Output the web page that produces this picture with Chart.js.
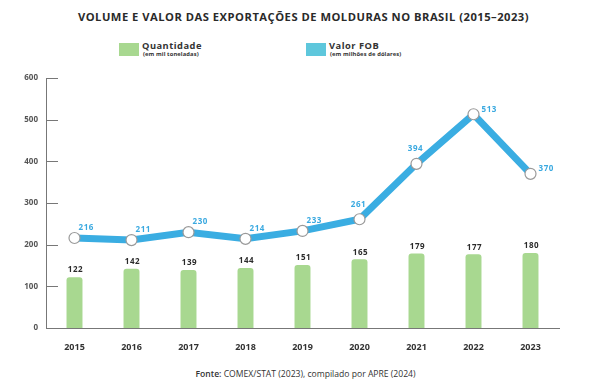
<!DOCTYPE html>
<html><head><meta charset="utf-8">
<script src="https://cdn.jsdelivr.net/npm/chart.js@4"></script>
<style>
html,body{margin:0;padding:0;background:#fff;}
body{width:595px;height:381px;position:relative;overflow:hidden;font-family:"Open Sans",sans-serif;}
#title{position:absolute;top:9px;left:6px;width:595px;text-align:center;font-weight:700;font-size:11.2px;letter-spacing:0.5px;color:#2a2a2a;}
.leg{position:absolute;top:43px;}
.sw{position:absolute;left:0;top:0;width:20px;height:12.5px;}
.lt{position:absolute;left:23px;top:-3px;white-space:nowrap;font-weight:700;font-size:9.3px;letter-spacing:0.5px;color:#333;line-height:11px;}
.ls{display:block;font-size:5.8px;letter-spacing:0.1px;line-height:6px;margin-left:1px;}
#src{position:absolute;top:368px;left:8px;width:595px;text-align:center;font-size:8.6px;color:#333;}
#src b{font-weight:600;}
canvas{position:absolute;left:0;top:0;}
</style></head>
<body>
<div id="title">VOLUME E VALOR DAS EXPORTAÇÕES DE MOLDURAS NO BRASIL (2015–2023)</div>
<div class="leg" style="left:119px"><div class="sw" style="background:#a8d890"></div><div class="lt">Quantidade<span class="ls">(em mil toneladas)</span></div></div>
<div class="leg" style="left:306px"><div class="sw" style="background:#5ec7dc"></div><div class="lt">Valor FOB<span class="ls">(em milhões de dólares)</span></div></div>
<div id="src"><b>Fonte:</b> COMEX/STAT (2023), compilado por APRE (2024)</div>
<canvas id="c" width="595" height="381"></canvas>
<script>
const years = ['2015','2016','2017','2018','2019','2020','2021','2022','2023'];
const quantidade = [122,142,139,144,151,165,179,177,180];
const valorFOB = [216,211,230,214,233,261,394,513,370];
const yTicks = [0,100,200,300,400,500,600];
const lineLabelAnchor = ['ne','ne','ne','ne','ne','n','n','e','e'];

const labelsPlugin = {
  id:'labels',
  afterDatasetsDraw(chart){
    const ctx = chart.ctx;
    ctx.save();
    ctx.font = '700 8px "Open Sans"';
    if (ctx.letterSpacing!==undefined) ctx.letterSpacing='0.6px';
    const barMeta = chart.getDatasetMeta(chart.data.datasets.findIndex(d=>d.type==='bar'));
    const lineMeta = chart.getDatasetMeta(chart.data.datasets.findIndex(d=>d.type==='line'));
    ctx.fillStyle = '#2a2a2a';
    ctx.textAlign='center'; ctx.textBaseline='bottom';
    barMeta.data.forEach((b,i)=>{ ctx.fillText(String(quantidade[i]), b.x+1, b.y-3); });
    ctx.fillStyle = '#3aa9e0';
    ctx.textBaseline='middle';
    lineMeta.data.forEach((p,i)=>{
      const a = lineLabelAnchor[i];
      if (a==='ne'){ ctx.textAlign='left'; ctx.fillText(String(valorFOB[i]), p.x+4, p.y-10); }
      else if (a==='n'){ ctx.textAlign='center'; ctx.fillText(String(valorFOB[i]), p.x-1, p.y-15); }
      else { ctx.textAlign='left'; ctx.fillText(String(valorFOB[i]), p.x+8, p.y-5); }
    });
    const ys = chart.scales.y;
    ctx.strokeStyle='#777'; ctx.lineWidth=1;
    ctx.beginPath();
    yTicks.forEach(v=>{ if(v===0) return; const y=Math.round(ys.getPixelForValue(v))+0.5; ctx.moveTo(ys.right, y); ctx.lineTo(ys.right+12, y); });
    ctx.stroke();
    ctx.restore();
  }
};

new Chart(document.getElementById('c'), {
  data:{
    labels: years,
    datasets:[
      {type:'bar', label:'Quantidade', data: quantidade, backgroundColor:'#a8d890', categoryPercentage:1, barPercentage:0.28, borderRadius:{topLeft:3,topRight:3,bottomLeft:0,bottomRight:0}, borderSkipped:false, order:1},
      {type:'line', label:'Valor FOB', data: valorFOB, borderColor:'#3aade2', borderWidth:7, pointRadius:5.5, pointBackgroundColor:'#fff', pointBorderColor:'#9a9a9a', pointBorderWidth:1.2, tension:0, order:0}
    ]
  },
  options:{
    responsive:false, animation:false, devicePixelRatio:1,
    layout:{padding:{top:78,right:36,bottom:0,left:0}},
    plugins:{legend:{display:false}, tooltip:{enabled:false}},
    scales:{
      x:{
        grid:{display:false, drawTicks:false},
        border:{display:true,color:'#777',width:1},
        ticks:{padding:14, color:'#333', font:{family:'"Open Sans"',weight:'700',size:9}},
        afterFit(s){ s.height = 53; }
      },
      y:{
        min:0,max:600,
        afterBuildTicks(s){ s.ticks = yTicks.map(v=>({value:v})); },
        grid:{display:false, drawTicks:false},
        border:{display:true,color:'#777',width:1},
        ticks:{padding:8, color:'#555', font:{family:'"Open Sans"',weight:'700',size:8}},
        afterFit(s){ s.width = 46; }
      }
    }
  },
  plugins:[labelsPlugin]
});
</script>
</body></html>
